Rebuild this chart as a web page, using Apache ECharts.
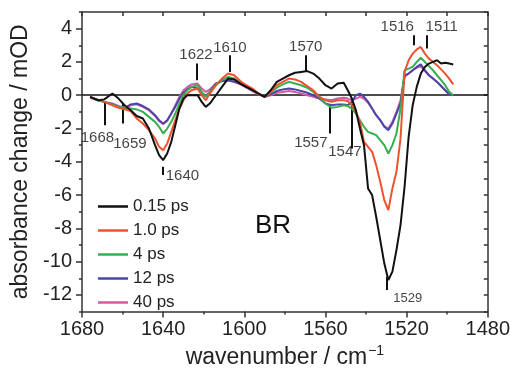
<!DOCTYPE html>
<html><head><meta charset="utf-8">
<script src="https://cdn.jsdelivr.net/npm/echarts@6/dist/echarts.min.js"></script>
<style>html,body{margin:0;padding:0;background:#fff}#c{width:513px;height:374px}</style>
</head><body><div id="c"></div>
<script>
// wavenumber grid (cm^-1)
const wn = [1676,1672,1669,1665,1662,1659,1656,1653,1650,1647,1644,1642,1640,1638,1636,1634,1632,1630,1628,1626,1623,1621,1619,1617,1614,1611,1608,1605,1602,1599,1596,1593,1590,1587,1584,1581,1578,1575,1572,1569,1566,1563,1560,1557,1554,1551,1549,1547,1545,1543,1541,1539,1537,1535,1533,1531,1529,1527,1525,1523,1521,1519,1517,1515,1513,1511,1509,1507,1505,1503,1501,1499,1497];
// absorbance change (mOD)
const ps015 = [-0.1,-0.3,-0.25,0.1,-0.2,-0.6,-0.9,-1.25,-1.4,-2.0,-3.0,-3.6,-3.9,-3.5,-2.8,-1.8,-0.8,-0.2,0.0,0.0,0.0,-0.4,-0.7,-0.5,0.0,0.5,1.0,0.95,0.7,0.5,0.3,0.1,-0.1,0.3,0.8,1.0,1.2,1.35,1.4,1.45,1.3,1.0,0.6,0.4,0.7,0.75,0.3,-0.2,-0.9,-2.0,-3.0,-5.6,-6.0,-7.3,-8.7,-10.1,-11.1,-10.6,-9.3,-7.8,-5.5,-2.5,-0.6,0.5,1.3,1.7,1.9,2.0,2.1,1.9,1.95,1.9,1.85];
const ps10 = [-0.15,-0.3,-0.4,-0.6,-0.75,-0.85,-0.95,-1.4,-1.7,-2.1,-2.6,-3.1,-3.3,-2.9,-2.2,-1.5,-0.8,-0.3,0.1,0.3,0.4,0.0,-0.3,0.1,0.6,1.0,1.3,1.2,0.85,0.6,0.4,0.1,-0.1,0.2,0.6,0.8,1.0,0.95,0.8,0.55,0.3,-0.1,-0.3,-0.4,-0.3,-0.3,-0.35,-0.6,-1.0,-1.6,-2.8,-3.1,-3.4,-4.2,-5.2,-6.3,-6.9,-5.6,-4.6,-2.6,1.4,2.1,2.5,2.75,2.9,2.5,2.2,2.0,1.8,1.55,1.3,1.0,0.65];
const ps4 = [-0.15,-0.3,-0.4,-0.55,-0.7,-0.75,-0.8,-0.85,-1.0,-1.3,-1.6,-1.9,-2.3,-2.0,-1.6,-1.1,-0.5,0.0,0.3,0.5,0.6,0.2,-0.1,0.2,0.6,0.9,1.1,1.0,0.75,0.55,0.35,0.1,-0.1,0.15,0.45,0.65,0.8,0.7,0.6,0.45,0.2,-0.1,-0.5,-0.75,-0.7,-0.6,-0.65,-0.8,-1.1,-1.5,-1.9,-2.2,-2.3,-2.4,-2.7,-3.0,-3.5,-3.0,-2.3,-0.8,1.5,1.6,1.7,2.0,2.25,2.0,1.75,1.5,1.2,0.9,0.6,0.2,0.0];
const ps12 = [-0.1,-0.3,-0.4,-0.55,-0.7,-0.8,-0.55,-0.5,-0.65,-0.85,-1.2,-1.5,-1.7,-1.5,-1.1,-0.7,-0.2,0.15,0.35,0.5,0.4,0.15,-0.05,0.2,0.7,0.85,0.9,0.8,0.7,0.5,0.3,0.1,-0.1,0.05,0.25,0.35,0.4,0.35,0.25,0.15,0.0,-0.2,-0.5,-0.6,-0.55,-0.55,-0.6,-0.4,0.0,0.1,-0.1,-0.4,-0.8,-1.2,-1.5,-1.9,-2.1,-1.7,-1.1,-0.5,1.2,1.3,1.5,1.7,1.85,1.5,1.2,1.0,0.8,0.55,0.3,0.05,0.0];
const ps40 = [-0.1,-0.3,-0.4,-0.5,-0.65,-0.75,-0.6,-0.55,-0.7,-0.9,-1.25,-1.55,-1.75,-1.55,-1.1,-0.6,-0.1,0.3,0.5,0.65,0.7,0.4,0.2,0.35,0.7,0.85,0.9,0.8,0.65,0.45,0.25,0.05,-0.1,0.0,0.15,0.2,0.25,0.2,0.1,0.0,-0.1,-0.2,-0.25,-0.3,-0.2,-0.15,-0.2,-0.3,-0.2,-0.1,-0.2,-0.45,-0.8,-1.2,-1.5,-1.85,-2.0,-1.6,-1.0,-0.3,1.1,1.3,1.5,1.65,1.75,1.45,1.2,1.0,0.8,0.55,0.3,0.05,0.0];
const seriesNames = ['0.15 ps','1.0 ps','4 ps','12 ps','40 ps'];
const yLabelValues = [-12,-10,-8,-6,-4,-2,0,2,4];
// peak annotations (data units)
const annText = ['1668','1659','1640','1622','1610','1570','1557','1547','1516','1511','1529'];
const annLineX = [1669,1660,1640,1623.5,1607,1569.7,1557.8,1547,1516.5,1510.2,1529.6];
const annLineFrom = [-0.4,-0.5,-4.3,0.9,1.4,1.4,-0.7,-0.5,3.0,2.8,-10.9];
const annLineTo = [-1.8,-1.7,-4.8,1.9,2.4,2.4,-2.3,-3.2,3.6,3.6,-11.7];
const annTextX = [1672.4,1656.4,1630.5,1623.8,1607.1,1569.7,1567.2,1550.4,1524.6,1502.7,1519.4];
const annTextY = [-2.56,-2.95,-4.82,2.41,2.83,2.89,-2.89,-3.43,4.1,4.1,-12.2];

const FONT = 'Liberation Sans, Arial, Helvetica, sans-serif';
const colors = ['#111111','#ec5230','#35b04e','#4a46a8','#d25ba4'];
const valuesList = [ps015, ps10, ps4, ps12, ps40];
const frame = {color:'#333', width:1.5};

const lineSeries = seriesNames.map((n,i)=>({
  name:n, type:'line', symbol:'none', showSymbol:false, smooth:false, z: 10 - i,
  lineStyle:{width:2, color:colors[i]}, itemStyle:{color:colors[i]},
  data: wn.map((w,k)=>[w, valuesList[i][k]])
}));

const annLines = annText.map((t,i)=>[{coord:[annLineX[i],annLineFrom[i]]},{coord:[annLineX[i],annLineTo[i]]}]);
annLines.push({yAxis:0, lineStyle:{width:1.5, color:'#111', type:'solid'}});

const annSeries = {
  type:'scatter', symbolSize:0, silent:true, z:20,
  itemStyle:{color:'transparent'},
  data: annText.map((t,i)=>({name:t, value:[annTextX[i], annTextY[i]],
     label:{fontSize: t==='1529'?13:15}})),
  label:{show:true, position:'inside', formatter:p=>p.name, color:'#111', fontFamily:FONT, fontSize:15},
  markLine:{silent:true, symbol:['none','none'], animation:false, label:{show:false},
    lineStyle:{color:'#111', width:2, type:'solid'}, data: annLines}
};

const chart = echarts.init(document.getElementById('c'), null, {renderer:'canvas'});
chart.setOption({
  animation:false,
  backgroundColor:'#fff',
  grid:{left:82, right:25, top:12, bottom:62},
  title:{text:'BR', left:250, top:208, textStyle:{fontFamily:FONT, fontSize:26, fontWeight:'normal', color:'#111'}},
  legend:{data:seriesNames, orient:'vertical', left:93, top:193, icon:'rect', itemWidth:30, itemHeight:2.5, itemGap:7,
    textStyle:{fontFamily:FONT, fontSize:17, color:'#222', lineHeight:17}},
  xAxis:[
    {type:'value', min:1480, max:1680, interval:40, inverse:true, position:'bottom',
     axisLine:{show:true, onZero:false, lineStyle:frame},
     axisTick:{show:true, length:6, lineStyle:frame},
     minorTick:{show:true, splitNumber:2, length:3, lineStyle:frame},
     splitLine:{show:false}, minorSplitLine:{show:false},
     axisLabel:{fontFamily:FONT, fontSize:20, color:'#222', margin:8, formatter:v=>String(v)},
     name:'{a|wavenumber / cm}{b|−1}', nameLocation:'middle', nameGap:32,
     nameTextStyle:{rich:{a:{fontFamily:FONT, fontSize:23, color:'#222'}, b:{fontFamily:FONT, fontSize:14, color:'#222', padding:[0,0,12,1]}}}},
    {type:'value', min:1480, max:1680, interval:20, inverse:true, position:'top',
     axisLine:{show:true, onZero:false, lineStyle:frame},
     axisTick:{show:true, inside:true, length:4, lineStyle:frame},
     axisLabel:{show:false}, splitLine:{show:false}}
  ],
  yAxis:[
    {type:'value', min:-13, max:5, position:'left',
     axisLine:{show:true, onZero:false, lineStyle:frame},
     axisTick:{show:true, length:6, customValues:yLabelValues, lineStyle:frame},
     axisLabel:{fontFamily:FONT, fontSize:20, color:'#222', margin:10, customValues:yLabelValues},
     splitLine:{show:false},
     name:'absorbance change / mOD', nameLocation:'middle', nameGap:42, nameRotate:90,
     nameTextStyle:{fontFamily:FONT, fontSize:23, color:'#222'}},
    {type:'value', min:-13, max:5, interval:1, position:'left',
     axisLine:{show:false, onZero:false}, axisTick:{show:true, length:3, lineStyle:frame},
     axisLabel:{show:false}, splitLine:{show:false}},
    {type:'value', min:-13, max:5, interval:1, position:'right',
     axisLine:{show:true, onZero:false, lineStyle:frame},
     axisTick:{show:true, inside:true, length:4, lineStyle:frame},
     axisLabel:{show:false}, splitLine:{show:false}}
  ],
  series:[...lineSeries, annSeries]
});
</script></body></html>
